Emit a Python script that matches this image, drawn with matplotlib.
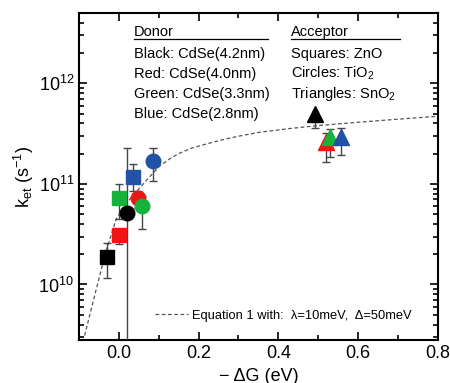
import numpy as np
import matplotlib.pyplot as plt
from matplotlib.ticker import MultipleLocator, LogLocator, NullFormatter

plt.rcParams['font.family'] = ['Liberation Sans', 'DejaVu Sans']
plt.rcParams['mathtext.fontset'] = 'custom'
plt.rcParams['mathtext.rm'] = 'Liberation Sans'
plt.rcParams['mathtext.it'] = 'Liberation Sans'

# data
colors = ['black', '#f01414', '#14b43c', '#2152a6']

# squares: ZnO
sq_x = [-0.030, 0.000, 0.001, 0.036]
sq_y = [1.89e10, 3.1e10, 7.2e10, 1.16e11]
sq_lo = [1.16e10, 2.5e10, 4.5e10, 8.5e10]
sq_hi = [2.6e10, 3.6e10, 1.0e11, 1.58e11]

# circles: TiO2
ci_x = [0.020, 0.048, 0.059, 0.086]
ci_y = [5.1e10, 7.2e10, 6.1e10, 1.69e11]
ci_lo = [1.0e9, 5.8e10, 3.56e10, 1.07e11]
ci_hi = [2.26e11, 8.6e10, 7.5e10, 2.3e11]

# triangles: SnO2
tr_x = [0.492, 0.520, 0.529, 0.558]
tr_y = [4.9e11, 2.6e11, 2.9e11, 2.9e11]
tr_lo = [3.6e11, 1.64e11, 1.84e11, 1.95e11]
tr_hi = [4.9e11, 3.2e11, 3.55e11, 3.6e11]

# dashed curve (Equation 1)
fit_x = [-0.086, -0.06, -0.032, -0.0065, 0.02, 0.05, 0.073, 0.102, 0.127,
         0.15, 0.18, 0.22, 0.26, 0.3, 0.35, 0.428, 0.5, 0.6, 0.7, 0.8]
fit_y = [3.1e9, 8.0e9, 2.16e10, 4.5e10, 6.5e10, 8.9e10, 1.13e11, 1.5e11,
         1.77e11, 2.0e11, 2.25e11, 2.5e11, 2.75e11, 2.98e11, 3.25e11, 3.55e11,
         3.8e11, 4.1e11, 4.4e11, 4.7e11]

fig = plt.figure(figsize=(4.5, 3.83), dpi=100)
ax = fig.add_axes([0.1756, 0.112, 0.797, 0.854])

ax.plot(fit_x, fit_y, '--', color='#555555', lw=0.9, dashes=(3, 2),
        label='Equation 1 with:  \u03bb=10meV,  \u0394=50meV', zorder=2)

def draw(xs, ys, lo, hi, marker, ms):
    for i in range(len(xs)):
        err = [[ys[i] - lo[i]], [hi[i] - ys[i]]]
        ax.errorbar(xs[i], ys[i], yerr=err, fmt='none', ecolor='#444444',
                    elinewidth=1.0, capsize=3, capthick=1.0, zorder=3)
        ax.plot(xs[i], ys[i], marker=marker, ms=ms, color=colors[i],
                mec=colors[i], ls='none', zorder=4)

draw(sq_x, sq_y, sq_lo, sq_hi, 's', 9.5)
draw(ci_x, ci_y, ci_lo, ci_hi, 'o', 10.5)
draw(tr_x, tr_y, tr_lo, tr_hi, '^', 11)

ax.set_yscale('log')
ax.set_xlim(-0.1, 0.8)
ax.set_ylim(2.8e9, 5e12)
ax.xaxis.set_major_locator(MultipleLocator(0.2))
ax.xaxis.set_minor_locator(MultipleLocator(0.1))
ax.yaxis.set_major_locator(LogLocator(base=10, numticks=10))
ax.yaxis.set_minor_locator(LogLocator(base=10, subs=np.arange(2, 10), numticks=20))
ax.yaxis.set_minor_formatter(NullFormatter())
ax.tick_params(which='both', direction='in', top=True, right=True, width=1.2)
ax.tick_params(which='major', length=6, labelsize=13)
ax.tick_params(which='minor', length=3.5)
for s in ax.spines.values():
    s.set_linewidth(1.5)

ax.set_xlabel('\u2212 \u0394G (eV)', fontsize=13, labelpad=4)
ax.set_ylabel('k$_{et}$ (s$^{-1}$)', fontsize=13, labelpad=2)

ax.legend(loc='lower right', frameon=False, fontsize=9.3, handlelength=2.6,
          handletextpad=0.3, borderaxespad=1.0, bbox_to_anchor=(0.978, 0.0))

# donor / acceptor key
fs = 10.5
ax.text(0.153, 0.93, 'Donor', transform=ax.transAxes, fontsize=fs)
ax.plot([0.153, 0.527], [0.922, 0.922], transform=ax.transAxes, color='black', lw=0.9)
donor = ['Black: CdSe(4.2nm)', 'Red: CdSe(4.0nm)', 'Green: CdSe(3.3nm)', 'Blue: CdSe(2.8nm)']
for i, t in enumerate(donor):
    ax.text(0.153, 0.864 - i * 0.0615, t, transform=ax.transAxes, fontsize=fs)
ax.text(0.592, 0.93, 'Acceptor', transform=ax.transAxes, fontsize=fs)
ax.plot([0.592, 0.894], [0.922, 0.922], transform=ax.transAxes, color='black', lw=0.9)
accept = ['Squares: ZnO', 'Circles: TiO$_2$', 'Triangles: SnO$_2$']
for i, t in enumerate(accept):
    ax.text(0.592, 0.864 - i * 0.0615, t, transform=ax.transAxes, fontsize=fs)

fig.savefig('out.png', dpi=100)
